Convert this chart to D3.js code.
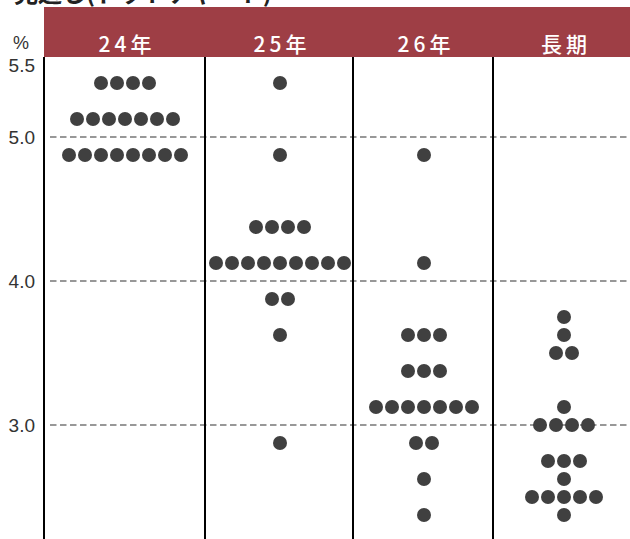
<!DOCTYPE html>
<html><head><meta charset="utf-8">
<script src="https://cdn.jsdelivr.net/npm/d3@7"></script>
<style>body{margin:0;background:#fff;}svg{display:block;}</style>
</head><body>
<script>
// ---- data ----
const categories = ["24年", "25年", "26年", "長期"];
const rates24 = [5.375,5.375,5.375,5.375, 5.125,5.125,5.125,5.125,5.125,5.125,5.125, 4.875,4.875,4.875,4.875,4.875,4.875,4.875,4.875];
const rates25 = [5.375, 4.875, 4.375,4.375,4.375,4.375, 4.125,4.125,4.125,4.125,4.125,4.125,4.125,4.125,4.125, 3.875,3.875, 3.625, 2.875];
const rates26 = [4.875, 4.125, 3.625,3.625,3.625, 3.375,3.375,3.375, 3.125,3.125,3.125,3.125,3.125,3.125,3.125, 2.875,2.875, 2.625, 2.375];
const ratesLR = [3.75, 3.625, 3.5,3.5, 3.125, 3.0,3.0,3.0,3.0, 2.75,2.75,2.75, 2.625, 2.5,2.5,2.5,2.5,2.5, 2.375];
const seriesValues = [rates24, rates25, rates26, ratesLR];
const tickValues = [5.5, 5.0, 4.0, 3.0];
const tickLabels = ["5.5", "5.0", "4.0", "3.0"];
const gridValues = [5.0, 4.0, 3.0];
const titleText = "見通し(ドットチャート)";

// ---- layout ----
const W = 630, H = 539;
const colEdges = [44, 205, 353, 493, 630];
const colCenters = [125, 280, 424, 564];
const dotR = 7, dotStep = 16;

const svg = d3.select("body").append("svg").attr("width", W).attr("height", H);

const y = d3.scaleLinear().domain([3, 5]).range([425, 137]);
const xc = d3.scaleOrdinal().domain(categories).range(colCenters);

// title (cut at top, as in the reference)
svg.append("text").attr("x", 14).attr("y", 2)
  .attr("font-family", "Noto Sans CJK JP").attr("font-size", 24).attr("font-weight", "bold")
  .attr("fill", "#222").text(titleText);

// header band
svg.append("rect").attr("x", colEdges[0]).attr("y", 7).attr("width", W - colEdges[0]).attr("height", 50)
  .attr("fill", "#9e3e45");
svg.selectAll("text.hdr").data(categories).join("text").attr("class", "hdr")
  .attr("x", d => xc(d) + 2).attr("y", 52).attr("text-anchor", "middle")
  .attr("font-family", "Noto Sans CJK JP").attr("font-size", 21).attr("font-weight", 500)
  .attr("letter-spacing", 4).attr("fill", "#fff").text(d => d);

// % label
svg.append("text").attr("x", 21).attr("y", 49).attr("text-anchor", "middle")
  .attr("font-family", "Liberation Sans Narrow, Liberation Sans").attr("font-size", 18).attr("fill", "#333").text("%");

// gridlines
svg.selectAll("line.grid").data(gridValues).join("line").attr("class", "grid")
  .attr("x1", 50).attr("x2", W).attr("y1", d => y(d)).attr("y2", d => y(d))
  .attr("stroke", "#777").attr("stroke-width", 1.3).attr("stroke-dasharray", "6.5,3.5");

// y axis labels via d3 axis
const axis = d3.axisLeft(y).tickValues(tickValues).tickFormat((d, i) => tickLabels[i]).tickSize(0).tickPadding(9);
const ag = svg.append("g").attr("transform", `translate(${colEdges[0]},0)`).call(axis);
ag.select(".domain").remove();
ag.selectAll("text").attr("font-family", "Liberation Sans").attr("font-size", 19).attr("fill", "#333");

// vertical column lines
svg.selectAll("line.col").data(colEdges.slice(0, 4)).join("line").attr("class", "col")
  .attr("x1", d => d).attr("x2", d => d).attr("y1", 57).attr("y2", H)
  .attr("stroke", "#000").attr("stroke-width", 2);

// dots
categories.forEach((cat, ci) => {
  const counts = d3.rollups(seriesValues[ci], v => v.length, d => d);
  const pts = [];
  counts.forEach(([val, n]) => {
    for (let k = 0; k < n; k++) pts.push({val, off: (k - (n - 1) / 2) * dotStep});
  });
  svg.append("g").selectAll("circle").data(pts).join("circle")
    .attr("cx", d => xc(cat) + d.off).attr("cy", d => y(d.val)).attr("r", dotR)
    .attr("fill", "#404040");
});
</script>
</body></html>
